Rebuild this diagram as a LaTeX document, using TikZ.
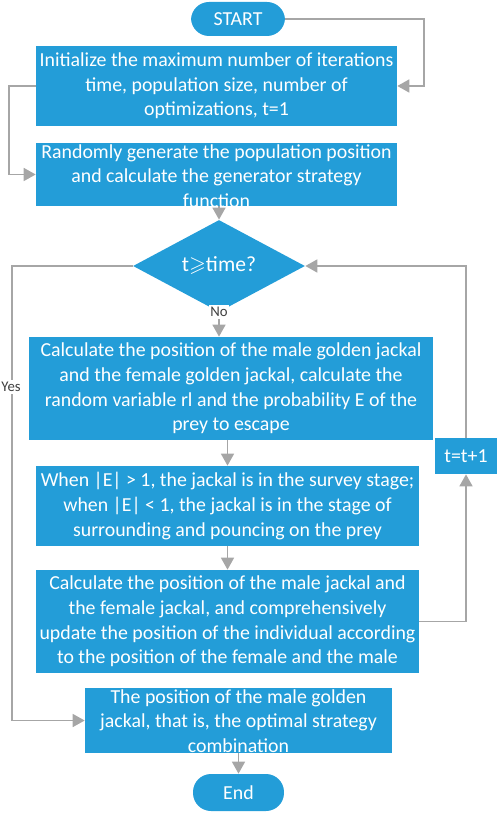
\documentclass[tikz,border=0pt]{standalone}
\usepackage{amssymb}
\usepackage{fontspec}
\setmainfont{Carlito}
\usetikzlibrary{arrows.meta,shapes.geometric}
\definecolor{BoxClr}{RGB}{35,157,216}
\definecolor{LineClr}{RGB}{166,166,166}
\definecolor{LblClr}{RGB}{64,64,64}

\tikzset{
  box/.style={rectangle,fill=BoxClr,inner sep=0pt,text=white,align=center,
    font=\fontsize{11.3}{14}\selectfont},
  term/.style={box,rounded corners=0.36cm},
  decide/.style={diamond,fill=BoxClr,inner sep=0pt,text=white,
    font=\fontsize{12.3}{14}\selectfont},
  boxtxt/.style={inner sep=0pt,text=white,align=center,
    font=\fontsize{11.3}{14}\selectfont},
  flow/.style={draw=LineClr,line width=0.9pt,-{Triangle[length=0.24cm,width=0.26cm]}},
  lbl/.style={fill=white,inner sep=1pt,text=LblClr,font=\fontsize{8.4}{10}\selectfont}
}

\begin{document}
\begin{tikzpicture}[x=0.02cm,y=-0.02cm]
\useasboundingbox (0,0) rectangle (498,813);

\node[term,minimum width=1.88cm,minimum height=0.68cm] (start) at (238,19) {START};
\node[box,minimum width=7.22cm,minimum height=1.6cm] (init) at (216.5,86)
  {Initialize the maximum number of iterations\\time, population size, number of\\optimizations, t=1};
\node[box,minimum width=7.22cm,minimum height=1.26cm] (gen) at (216.5,174.5) {};
\node[boxtxt] (gen-txt) at (216.5,176)
  {Randomly generate the population position\\and calculate the generator strategy\\function};
\node[decide,minimum width=3.44cm,minimum height=1.3cm] (dec) at (219,266) {t$\geqslant$time?};
\node[box,minimum width=8.08cm,minimum height=2.06cm] (calc) at (231,388.5)
  {Calculate the position of the male golden jackal\\and the female golden jackal, calculate the\\random variable rl and the probability E of the\\prey to escape};
\node[box,minimum width=7.66cm,minimum height=1.6cm] (when) at (227.5,506)
  {When |E| > 1, the jackal is in the survey stage;\\when |E| < 1, the jackal is in the stage of\\surrounding and pouncing on the prey};
\node[box,minimum width=7.66cm,minimum height=2.06cm] (upd) at (227.5,621.5)
  {Calculate the position of the male jackal and\\the female jackal, and comprehensively\\update the position of the individual according\\to the position of the female and the male};
\node[box,minimum width=6.14cm,minimum height=1.3cm] (fin) at (238.5,720.5) {};
\node[boxtxt] (fin-txt) at (238.5,721)
  {The position of the male golden\\jackal, that is, the optimal strategy\\combination};
\node[term,minimum width=1.82cm,minimum height=0.74cm] (stop) at (238.5,792.5) {End};
\node[box,minimum width=1.24cm,minimum height=0.72cm] (tinc) at (466,456) {t=t+1};

% turning points of the connectors
\coordinate (rA) at (424,86);
\coordinate (lA) at (9,86);
\coordinate (lB) at (12,387);

\draw[flow] (start.east) -| (rA) -- (init.east);
\draw[flow] (init.west) -- (lA) |- (gen.west);
\draw[flow] (dec.north |- gen.south) -- (dec.north);
\draw[flow] (dec.south) -- (dec.south |- calc.north);
\draw[flow] (when.north |- calc.south) -- (when.north);
\draw[flow] (when.south) -- (upd.north);
\draw[flow] (upd.east) -| (tinc.south);
\draw[flow] (tinc.north) |- (dec.east);
\draw[flow] (dec.west) -| (lB) |- (fin.west);
\draw[flow] (stop.north |- fin.south) -- (stop.north);

\node[lbl] (no) at (219,312) {No};
\node[lbl] (yes) at (11,387) {Yes};

\end{tikzpicture}
\end{document}
